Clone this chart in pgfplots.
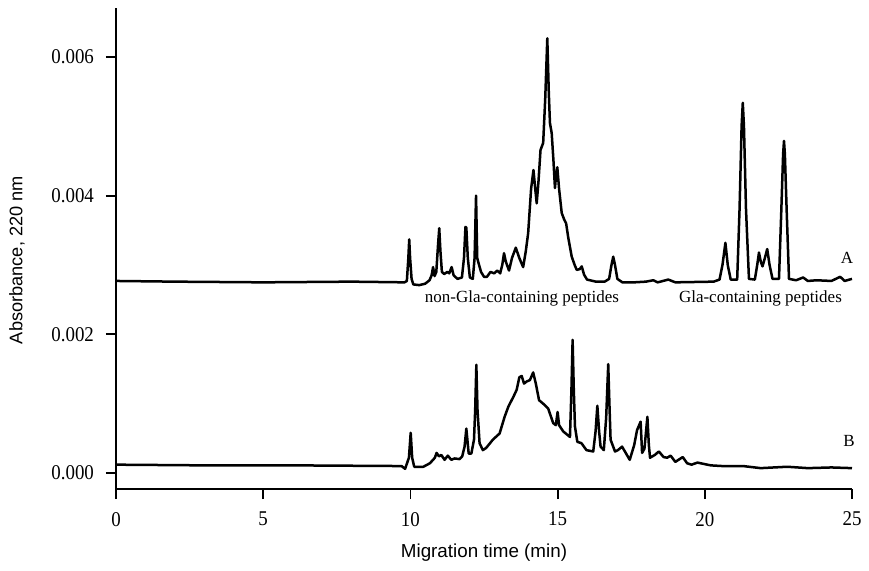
\documentclass[border=0pt]{standalone}
\usepackage{fontspec}
\setmainfont{Liberation Serif}
\newfontfamily\labfont{Liberation Sans}
\newfontfamily\tickfont[FakeStretch=0.9]{Liberation Serif}
\usepackage{pgfplots}
\pgfplotsset{compat=1.18}
\begin{document}
\begin{tikzpicture}
\begin{axis}[
  scale only axis,
  width=368pt, height=240.5pt,
  xmin=0, xmax=25,
  ymin=-0.000231, ymax=0.006707,
  axis x line*=bottom, axis y line*=left,
  axis line style={line width=1.1pt},
  tick align=outside,
  major tick length=5pt,
  tick style={line width=0.9pt, black},
  xtick={0,5,10,15,20,25},
  xticklabels={0,5,10,15,20,25},
  ytick={0,0.002,0.004,0.006},
  yticklabels={0.000,0.002,0.004,0.006},
  ticklabel style={font=\tickfont\fontsize{10.5}{12}\selectfont},
  yticklabel style={xshift=-2.5pt},
  xticklabel style={yshift=-3pt},
  scaled y ticks=false,
  xlabel={Migration time (min)},
  ylabel={Absorbance, 220 nm},
  x label style={at={(axis description cs:0.5,-0.133)}, anchor=center, font=\labfont\fontsize{9.4}{11}\selectfont},
  y label style={at={(axis description cs:-0.1345,0.476)}, anchor=center, font=\labfont\fontsize{9.1}{11}\selectfont},
  clip=false,
]
\addplot[black, line width=1.25pt, line join=round] coordinates {
(0,0.00277) (2,0.00276) (5,0.00275) (8,0.00276) (9.8,0.00275)
(9.88,0.00277) (9.93,0.0031) (9.96,0.00337) (9.99,0.0031) (10.04,0.0028) (10.1,0.00272) (10.3,0.00271) (10.5,0.00273)
(10.65,0.00278) (10.72,0.00285) (10.77,0.00297) (10.82,0.00284) (10.88,0.0029) (10.94,0.0033) (10.98,0.00353) (11.02,0.0032)
(11.07,0.0029) (11.15,0.00287) (11.25,0.0029) (11.32,0.00288) (11.4,0.00297) (11.47,0.00285) (11.6,0.0028) (11.75,0.00282)
(11.82,0.0031) (11.87,0.00355) (11.9,0.00354) (11.95,0.0031) (12.02,0.00282) (12.12,0.0028) (12.18,0.0031) (12.23,0.0040)
(12.27,0.0031) (12.32,0.00302) (12.4,0.0029) (12.5,0.00283) (12.6,0.00283) (12.72,0.0029) (12.85,0.00288) (12.95,0.00292)
(13.05,0.00288) (13.12,0.003) (13.18,0.00317) (13.24,0.00305) (13.35,0.00292) (13.45,0.0031) (13.58,0.00325) (13.7,0.0031)
(13.83,0.00297) (13.92,0.0032) (14.0,0.00346) (14.1,0.0041) (14.18,0.00437) (14.24,0.0041) (14.29,0.00389) (14.35,0.0042)
(14.42,0.00466) (14.51,0.00476) (14.58,0.0054) (14.65,0.00627) (14.7,0.0055) (14.74,0.00505) (14.8,0.0049) (14.86,0.0045)
(14.91,0.00411) (14.95,0.0043) (14.99,0.00441) (15.05,0.0041) (15.14,0.00375) (15.22,0.00366) (15.29,0.0036) (15.36,0.0034)
(15.48,0.00312) (15.58,0.003) (15.65,0.00293) (15.75,0.00294) (15.82,0.00298) (15.9,0.00286) (16.0,0.00279) (16.3,0.00276)
(16.6,0.00276) (16.75,0.0028) (16.83,0.003) (16.89,0.00312) (16.95,0.003) (17.03,0.0028) (17.2,0.00275) (17.6,0.00275)
(18.0,0.00276) (18.25,0.00278) (18.4,0.00275) (18.76,0.00279) (19.0,0.00275) (20.3,0.00276) (20.5,0.00279) (20.6,0.003)
(20.7,0.00332) (20.78,0.003) (20.88,0.00279) (21.1,0.00279) (21.18,0.0038) (21.25,0.0050) (21.29,0.00534) (21.33,0.005)
(21.4,0.0038) (21.5,0.0028) (21.7,0.00279) (21.78,0.003) (21.84,0.00318) (21.9,0.00305) (21.96,0.00298) (22.04,0.0031)
(22.12,0.00323) (22.2,0.003) (22.3,0.0028) (22.52,0.0028) (22.6,0.0038) (22.66,0.0046) (22.69,0.00479) (22.72,0.0046)
(22.78,0.0038) (22.86,0.0028) (23.1,0.00278) (23.34,0.00282) (23.5,0.00277) (23.8,0.00278) (24.3,0.00277) (24.6,0.00283)
(24.75,0.00277) (25,0.0028)
};
\addplot[black, line width=1.25pt, line join=round] coordinates {
(0,0.00012) (3,0.00011) (6,0.00011) (9.7,0.0001) (9.82,0.00006) (9.95,0.00022) (10.01,0.00058) (10.06,0.00022) (10.13,0.00009)
(10.44,0.00009) (10.66,0.00014) (10.77,0.00019) (10.83,0.00022) (10.89,0.00029) (10.97,0.00024) (11.05,0.00026) (11.16,0.00019)
(11.27,0.00025) (11.39,0.00019) (11.5,0.00021) (11.67,0.0002) (11.76,0.00024) (11.84,0.00038) (11.9,0.00064) (11.98,0.00028)
(12.07,0.00028) (12.16,0.00048) (12.2,0.0009) (12.24,0.00156) (12.28,0.0009) (12.35,0.00043) (12.46,0.00033) (12.57,0.00036)
(12.8,0.00048) (13.03,0.00057) (13.2,0.00081) (13.33,0.00096) (13.5,0.0011) (13.61,0.0012) (13.7,0.00138) (13.78,0.0014)
(13.86,0.00129) (13.95,0.00132) (14.06,0.00134) (14.17,0.00145) (14.26,0.00129) (14.37,0.00105) (14.51,0.001) (14.68,0.00093)
(14.85,0.00072) (14.94,0.00069) (15.0,0.00088) (15.05,0.00069) (15.19,0.0006) (15.42,0.00052) (15.47,0.0012) (15.51,0.00192)
(15.55,0.0012) (15.59,0.00067) (15.67,0.00045) (15.81,0.00043) (15.98,0.00033) (16.21,0.00031) (16.29,0.0006) (16.35,0.00097)
(16.41,0.0006) (16.46,0.00038) (16.57,0.00033) (16.65,0.0008) (16.72,0.00157) (16.76,0.001) (16.8,0.00048) (16.95,0.00031)
(17.05,0.00033) (17.19,0.00038) (17.3,0.0003) (17.45,0.00019) (17.6,0.0004) (17.7,0.00062) (17.82,0.00074) (17.87,0.00029)
(17.95,0.00035) (18.05,0.00081) (18.1,0.0004) (18.14,0.00022) (18.3,0.00026) (18.44,0.00031) (18.6,0.00023) (18.72,0.00022)
(18.84,0.00025) (19.0,0.00016) (19.25,0.00023) (19.4,0.00014) (19.55,0.00012) (19.75,0.00015) (20.2,0.00011) (20.6,0.0001)
(21.3,0.0001) (21.9,0.00007) (22.8,0.00009) (23.5,0.00007) (24.3,0.00008) (25,0.00007)
};
\node[font=\fontsize{8.5}{10}\selectfont] at (axis cs:13.79,0.00252) {non-Gla-containing peptides};
\node[font=\fontsize{8.5}{10}\selectfont] at (axis cs:21.89,0.00252) {Gla-containing peptides};
\node[font=\fontsize{8.5}{10}\selectfont] at (axis cs:24.83,0.0031) {A};
\node[font=\fontsize{8.5}{10}\selectfont] at (axis cs:24.9,0.00046) {B};
\end{axis}
\pgfresetboundingbox
\path[use as bounding box] (-58pt,-40.5pt) rectangle (376.5pt,244.5pt);
\end{tikzpicture}
\end{document}
